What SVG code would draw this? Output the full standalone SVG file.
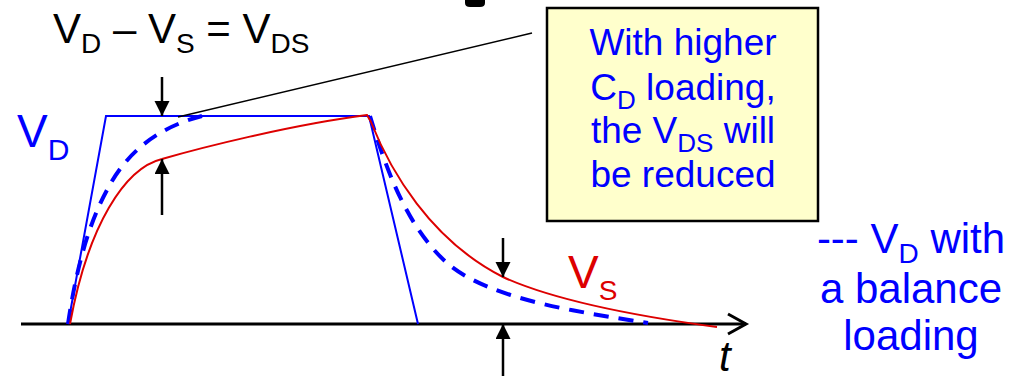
<svg xmlns="http://www.w3.org/2000/svg" width="1017" height="376" viewBox="0 0 1017 376">
<style>
text{font-family:"Liberation Sans",Arial,sans-serif}
.blk{fill:#000}
.blu{fill:#0000FF}
.red{fill:#DD0000}
.vd{fill:none;stroke:#0000FF;stroke-width:2}
.vdd{fill:none;stroke:#0000FF;stroke-width:4;stroke-dasharray:15 10}
.vs{fill:none;stroke:#DD0000;stroke-width:2}
.arr{stroke:#000;stroke-width:2.5;marker-end:url(#ah)}
</style>
<defs>
<marker id="ah" markerUnits="userSpaceOnUse" markerWidth="16" markerHeight="16" refX="15" refY="7.5" orient="auto">
<path d="M0,0 L15,7.5 L0,15 Z" fill="#000"/>
</marker>
</defs>
<rect width="1017" height="376" fill="#fff"/>
<path d="M465,0 L485,0 L485,3 Q485,7 480,7 L470,7 Q465,7 465,3 Z" fill="#000"/>
<g id="axis">
<line x1="21" y1="324" x2="746" y2="324" stroke="#000" stroke-width="3"/>
<polyline points="728,314 746,324 728,334" fill="none" stroke="#000" stroke-width="3"/>
<text x="719" y="371" class="blk" font-size="42" font-style="italic">t</text>
</g>
<g id="vd-wave">
<polyline class="vd" points="68,324 106,116 369,116 418,324"/>
</g>
<g id="vd-balanced">
<path class="vdd" d="M68,324 C76,270 88,225 107,190 C125,155 155,128 202,116"/>
<path class="vdd" d="M370,116 C385,165 405,225 447,263 C490,300 580,312 648,323"/>
</g>
<g id="vs-wave">
<path class="vs" d="M70,324 C88,225 125,168 162,159 C200,148 290,125 367,115 L371,122 C390,170 430,240 503,277 C560,303 650,318 717,327"/>
</g>
<g id="connectors">
<line class="arr" x1="162" y1="77" x2="162" y2="116"/>
<line class="arr" x1="162" y1="215" x2="162" y2="159"/>
<line class="arr" x1="503" y1="238" x2="503" y2="277"/>
<line class="arr" x1="503" y1="376" x2="503" y2="324"/>
<line x1="178" y1="117" x2="532" y2="33" stroke="#000" stroke-width="1.5"/>
</g>
<g id="title">
<text x="53" y="43" class="blk" font-size="42">V<tspan font-size="28" dy="10">D</tspan><tspan dy="-10"> – V</tspan><tspan font-size="28" dy="10">S</tspan><tspan dy="-10"> = V</tspan><tspan font-size="28" dy="10">DS</tspan></text>
</g>
<g id="label-vd">
<text x="17" y="147" class="blu" font-size="46">V<tspan font-size="30" dy="13">D</tspan></text>
</g>
<g id="label-vs">
<text x="568" y="288" class="red" font-size="46">V<tspan font-size="28" dy="12">S</tspan></text>
</g>
<g id="callout">
<rect x="547" y="8" width="271" height="213" fill="#FFFFCC" stroke="#000" stroke-width="2.5"/>
<g class="blu" font-size="37" text-anchor="middle">
<text x="683" y="55" class="blu">With higher</text>
<text x="683" y="100" class="blu">C<tspan font-size="26" dy="9">D</tspan><tspan dy="-9"> loading,</tspan></text>
<text x="683" y="143" class="blu">the V<tspan font-size="26" dy="9">DS</tspan><tspan dy="-9"> will</tspan></text>
<text x="683" y="187" class="blu">be reduced</text>
</g>
</g>
<g id="legend" font-size="42" text-anchor="middle">
<text x="911" y="253" class="blu">--- V<tspan font-size="28" dy="10">D</tspan><tspan dy="-10"> with</tspan></text>
<text x="911" y="303" class="blu">a balance</text>
<text x="911" y="350" class="blu">loading</text>
</g>
</svg>
